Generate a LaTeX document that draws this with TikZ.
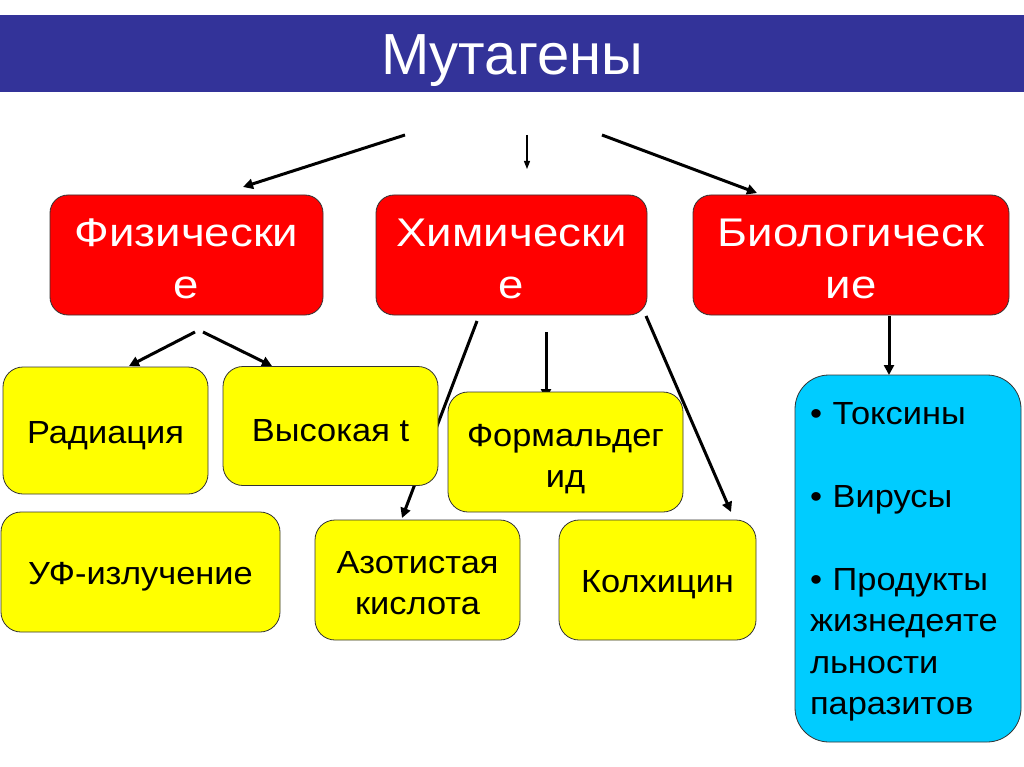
\documentclass[tikz,border=0pt]{standalone}
\usepackage{fontspec}
\setmainfont{Liberation Sans}
\newfontfamily\groupfont[FakeStretch=1.14]{Liberation Sans}
\newfontfamily\agentfont[FakeStretch=1.075]{Liberation Sans}
\usepackage{tikz}
\usetikzlibrary{arrows.meta, backgrounds}
\definecolor{titlecolor}{RGB}{51,51,153}
\definecolor{groupcolor}{RGB}{255,0,0}
\definecolor{agentcolor}{RGB}{255,255,0}
\definecolor{biocolor}{RGB}{0,204,255}
\newcommand{\lift}[1]{\rule{0pt}{#1}}

\begin{document}
\begin{tikzpicture}[x=1pt, y=-1pt,
    group/.style={draw=black!80, line width=0.8pt, fill=groupcolor,
                  rounded corners=18pt, text=white, align=center,
                  inner sep=0pt, minimum height=120pt,
                  font=\groupfont\fontsize{40}{52}\selectfont},
    agent/.style={draw=black!80, line width=0.8pt, fill=agentcolor,
                  rounded corners=20pt, align=center, inner sep=0pt,
                  font=\agentfont\fontsize{32}{41}\selectfont},
    arrow/.style={-{Triangle[length=10pt,width=10pt]}, line width=3pt},
    thinarrow/.style={-{Triangle[length=8pt,width=6pt]}, line width=1.2pt}
  ]
  \useasboundingbox (0,0) rectangle (1024,767);

  % Title
  \fill[titlecolor] (0,15) rectangle (1024,92);
  \node[anchor=base, text=white, inner sep=0pt,
        font=\fontsize{58}{60}\selectfont] (title) at (512,75) {Мутагены};

  % Groups
  \node[group, minimum width=273pt] (phys) at (186.5,255) {\lift{35pt}Физически\\е};
  \node[group, minimum width=271pt] (chem) at (511.5,255) {\lift{35pt}Химически\\е};
  \node[group, minimum width=316pt] (bio)  at (851,255) {\lift{35pt}Биологическ\\ие};

  % Agents
  \node[agent, minimum width=205pt, minimum height=127pt] (rad)  at (105.5,430.5) {\lift{32pt}Радиация};
  \node[agent, minimum width=215pt, minimum height=119pt] (heat) at (330.5,426) {\lift{32pt}Высокая t};
  \node[agent, minimum width=279pt, minimum height=120pt] (uv)   at (140.5,572) {\lift{32pt}УФ-излучение};
  \node[agent, minimum width=235pt, minimum height=120pt] (form) at (565.5,452) {\lift{36pt}Формальдег\\ид};
  \node[agent, minimum width=205pt, minimum height=120pt] (nitr) at (417.5,580) {\lift{29pt}Азотистая\\кислота};
  \node[agent, minimum width=197pt, minimum height=120pt] (colch) at (657.5,580) {\lift{32pt}Колхицин};
  \node[draw=black!80, line width=0.8pt, fill=biocolor, rounded corners=34pt,
        minimum width=226pt, minimum height=367pt, inner xsep=15pt, inner ysep=0pt,
        text width=196pt, align=left,
        font=\agentfont\fontsize{32}{41.5}\selectfont]
        (toxin) at (908,558.5)
        {\lift{29pt}• Токсины\\[41.5pt]• Вирусы\\[41.5pt]• Продукты\\жизнедеяте\\льности\\паразитов};

  % Arrow ends
  \coordinate (mutL) at (405,135);  \coordinate (physT) at (243,187);
  \coordinate (mutC) at (527,135);  \coordinate (chemT) at (527,169);
  \coordinate (mutR) at (602,135);  \coordinate (bioT)  at (757,193);
  \coordinate (physL) at (195,332); \coordinate (radT)  at (129,366);
  \coordinate (physR) at (203,332); \coordinate (heatT) at (272,366);
  \coordinate (chemL) at (477,321); \coordinate (nitrT) at (402,518);
  \coordinate (chemC) at (546,332); \coordinate (formT) at (546,399);
  \coordinate (chemR) at (646,316); \coordinate (colchT) at (731,512);
  \coordinate (bioB) at (889,316);  \coordinate (toxinT) at (889,375);

  \begin{scope}[on background layer]
    \fill[white] (0,0) rectangle (1024,767);
    % Arrows: mutagens -> groups
    \draw[arrow] (mutL) -- (physT);
    \draw[thinarrow] (mutC) -- (chemT);
    \draw[arrow] (mutR) -- (bioT);
    % Arrows: groups -> agents
    \draw[arrow] (physL) -- (radT);
    \draw[arrow] (physR) -- (heatT);
    \draw[arrow] (chemL) -- (nitrT);
    \draw[arrow] (chemC) -- (formT);
    \draw[arrow] (chemR) -- (colchT);
    \draw[arrow] (bioB) -- (toxinT);
  \end{scope}
\end{tikzpicture}
\end{document}
